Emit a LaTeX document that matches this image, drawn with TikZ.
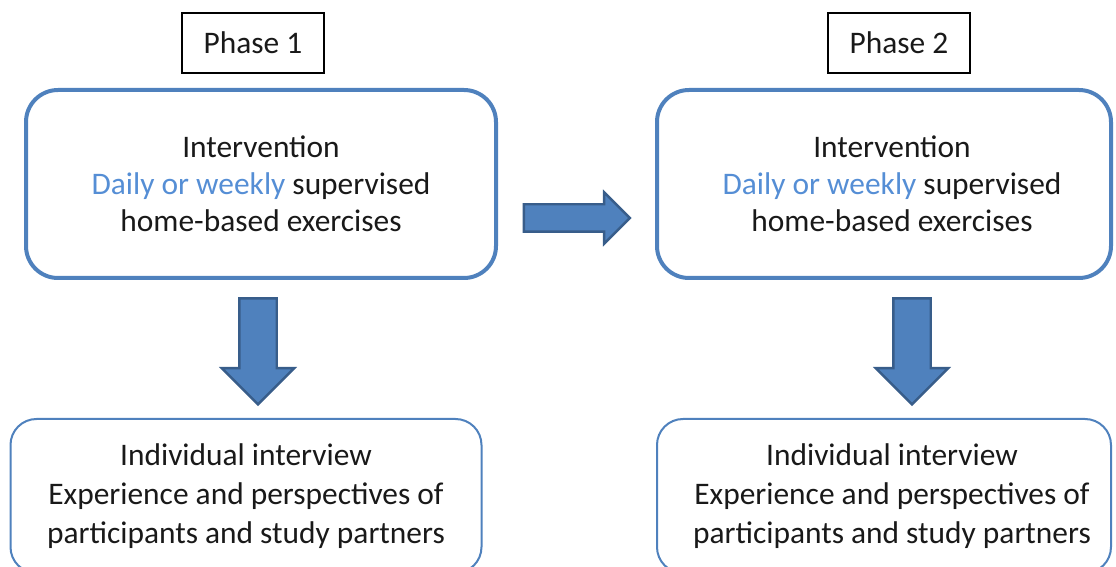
\documentclass[tikz,border=0pt]{standalone}
\usepackage{fontspec}
\setmainfont{Carlito}
\usetikzlibrary{shapes.arrows}
\definecolor{boxblue}{HTML}{4F81BD}
\definecolor{darkblue}{HTML}{385D8A}
\definecolor{lightblue}{HTML}{558ED5}

\begin{document}
\begin{tikzpicture}[x=0.5pt, y=-0.5pt,
  txt/.style={font=\fontsize{15.7pt}{18.6pt}\selectfont, align=center, text=black!90},
  phase/.style={txt, draw, line width=0.8pt, minimum width=71pt, minimum height=30pt, inner sep=0pt},
  inter/.style={txt, draw=boxblue, line width=2pt, rounded corners=16pt, minimum height=94pt},
  intv/.style={txt, font=\fontsize{15.7pt}{19.4pt}\selectfont, draw=boxblue, line width=1pt, rounded corners=13pt, minimum height=77pt},
  blk/.style={single arrow, fill=boxblue, draw=darkblue, line width=1.2pt,
              inner xsep=0pt, minimum height=53pt, single arrow head indent=0pt}]
  \useasboundingbox (0,0) rectangle (1116,567);
  \clip (0,0) rectangle (1116,567);
  % left column around x=260, right column around x=884 (1 unit = 1 px)
  \node[phase] (ph1) at (253,43)  {Phase 1};
  \node[phase] (ph2) at (899,43)  {Phase 2};
  \node[inter, minimum width=235pt] (int1) at (261,184) {Intervention\\ \textcolor{lightblue}{Daily or weekly} supervised\\ home-based exercises};
  \node[inter, minimum width=227pt] (int2) at (884,184) {\hspace*{8pt}Intervention\\ \hspace*{8pt}\textcolor{lightblue}{Daily or weekly} supervised\\ \hspace*{8pt}home-based exercises};
  \node[intv, minimum width=235.5pt] (iv1) at (246,496) {Individual interview\\ Experience and perspectives of\\ participants and study partners};
  \node[intv, minimum width=227pt] (iv2) at (884,496) {\hspace*{8pt}Individual interview\\ \hspace*{8pt}Experience and perspectives of\\ \hspace*{8pt}participants and study partners};
  % block arrows
  \node[blk, inner ysep=6.25pt, single arrow head extend=6pt] (toph2) at (570,218) {};
  \node[blk, rotate=-90, inner ysep=8.75pt, single arrow head extend=8.75pt] (down1) at (258,342) {};
  \node[blk, rotate=-90, inner ysep=8.75pt, single arrow head extend=8.75pt] (down2) at (912,342) {};
\end{tikzpicture}
\end{document}
